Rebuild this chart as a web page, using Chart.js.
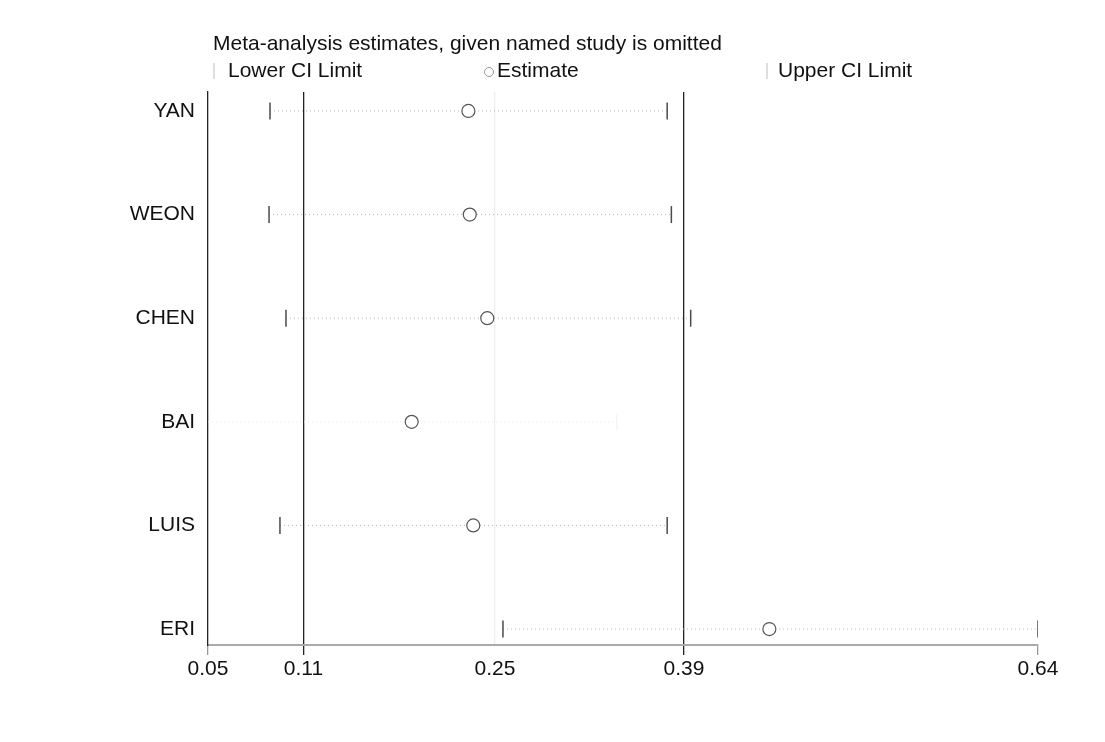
<!DOCTYPE html>
<html>
<head>
<meta charset="utf-8">
<script src="https://cdn.jsdelivr.net/npm/chart.js@4/dist/chart.umd.min.js"></script>
<style>
  html, body { margin: 0; padding: 0; background: #fff; }
  #wrap { width: 1105px; height: 742px; }
</style>
</head>
<body>
<div id="wrap"><canvas id="chart" width="1105" height="742"></canvas></div>
<script>
// Omitted study and the pooled estimate with its CI when that study is left out
const studies = ['YAN', 'WEON', 'CHEN', 'BAI', 'LUIS', 'ERI'];
const estimate = [0.232, 0.233, 0.2455, 0.1915, 0.2355, 0.447];
const lowerCI = [0.0903, 0.0896, 0.1017, 0.046, 0.0974, 0.2567];
const upperCI = [0.374, 0.377, 0.3908, 0.338, 0.374, 0.6389];

// full pooled result: lower CI, estimate, upper CI
const pooled = [0.1142, 0.251, 0.386];
const xMin = 0.046;
const xMax = 0.6389;
const xTicks = [xMin, pooled[0], pooled[1], pooled[2], xMax];
const xTickLabels = ['0.05', '0.11', '0.25', '0.39', '0.64'];

const titleText = 'Meta-analysis estimates, given named study is omitted';
const legendLabels = ['Lower CI Limit', 'Estimate', 'Upper CI Limit'];

Chart.defaults.font.family = '"Liberation Sans", Arial, sans-serif';
Chart.defaults.font.size = 21;
Chart.defaults.color = '#111';

const rowY = i => i + 1;

// faint CI marks for BAI like the source
const markColor = studies.map(s => s === 'BAI' ? 'rgba(0,0,0,0.04)' : '#4a4a4a');

const dotted = studies.map((s, i) => ({
  type: 'line',
  label: s + ' CI',
  data: [{ x: lowerCI[i], y: rowY(i) }, { x: upperCI[i], y: rowY(i) }],
  borderColor: s === 'BAI' ? '#ececec' : '#b8b8b8',
  borderWidth: 1,
  borderDash: [1, 3],
  pointRadius: 0,
  order: 5
}));

// title + stata style legend row
const headerPlugin = {
  id: 'header',
  afterDraw(chart) {
    const { ctx, chartArea } = chart;
    const left = chartArea.left;
    ctx.save();
    ctx.font = '21px "Liberation Sans", Arial, sans-serif';
    ctx.fillStyle = '#111';
    ctx.textBaseline = 'middle';
    ctx.fillText(titleText, left + 5, 44);

    const y = 71;
    const markX = [left + 6, left + 281, left + 559];
    const textX = [left + 20, left + 289, left + 570];
    ctx.strokeStyle = '#bdbdbd';
    ctx.lineWidth = 1;
    [0, 2].forEach(k => {
      ctx.beginPath();
      ctx.moveTo(markX[k], y - 8);
      ctx.lineTo(markX[k], y + 8);
      ctx.stroke();
    });
    ctx.strokeStyle = '#999';
    ctx.beginPath();
    ctx.arc(markX[1], y + 1, 4.5, 0, Math.PI * 2);
    ctx.stroke();
    legendLabels.forEach((t, k) => ctx.fillText(t, textX[k], y));
    ctx.restore();
  }
};

const lineColors = ['rgba(0,0,0,0)', '#222', '#eeeeee', '#222', 'rgba(0,0,0,0)'];
const tickColors = ['#999', '#222', 'rgba(0,0,0,0)', '#222', '#999'];

new Chart(document.getElementById('chart'), {
  type: 'scatter',
  data: {
    datasets: [
      ...dotted,
      {
        label: 'Lower CI Limit',
        data: studies.map((s, i) => ({ x: lowerCI[i], y: rowY(i) })),
        pointStyle: 'line',
        rotation: 90,
        radius: 8.5,
        borderWidth: 1.5,
        borderColor: markColor,
        order: 1
      },
      {
        label: 'Upper CI Limit',
        data: studies.map((s, i) => ({ x: upperCI[i], y: rowY(i) })),
        pointStyle: 'line',
        rotation: 90,
        radius: 8.5,
        borderWidth: 1.5,
        borderColor: markColor,
        order: 1
      },
      {
        label: 'Estimate',
        data: studies.map((s, i) => ({ x: estimate[i], y: rowY(i) })),
        pointStyle: 'circle',
        radius: 6.5,
        borderWidth: 1.2,
        borderColor: '#555',
        backgroundColor: '#fff',
        order: 0
      }
    ]
  },
  options: {
    responsive: false,
    animation: false,
    layout: { padding: { top: 92, right: 67, left: 0, bottom: 0 } },
    plugins: {
      legend: { display: false },
      tooltip: { enabled: false }
    },
    scales: {
      x: {
        type: 'linear',
        min: xMin,
        max: xMax,
        afterBuildTicks: scale => { scale.ticks = xTicks.map(v => ({ value: v })); },
        afterFit: scale => { scale.height = 97; },
        ticks: {
          autoSkip: false,
          maxRotation: 0,
          padding: 2,
          callback: (v, i) => xTickLabels[i]
        },
        grid: {
          color: c => lineColors[c.index],
          tickColor: c => tickColors[c.index],
          lineWidth: 1.3,
          tickLength: 10
        },
        border: { color: '#aaa', width: 2 }
      },
      y: {
        type: 'linear',
        reverse: true,
        min: 0.817,
        max: 6.154,
        afterBuildTicks: scale => { scale.ticks = studies.map((s, i) => ({ value: rowY(i) })); },
        afterFit: scale => { scale.width = 208; },
        ticks: {
          autoSkip: false,
          padding: 13,
          callback: (v, i) => studies[i]
        },
        grid: { display: false, drawTicks: false },
        border: { color: '#222', width: 1.3 }
      }
    }
  },
  plugins: [headerPlugin]
});
</script>
</body>
</html>
